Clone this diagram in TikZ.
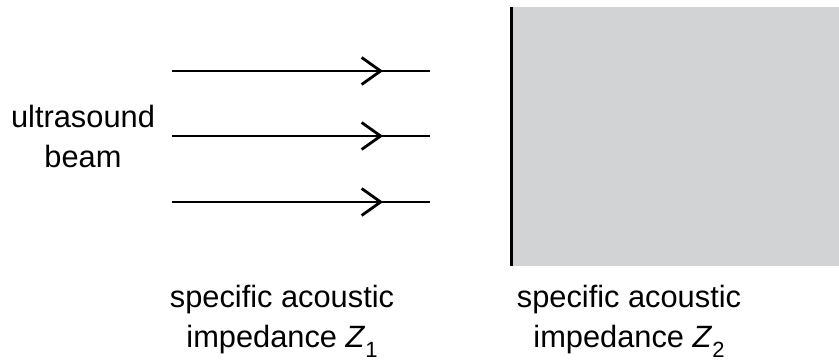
\documentclass[tikz,border=0pt]{standalone}
\usepackage{fontspec}
\setmainfont{Liberation Sans}
\usetikzlibrary{arrows.meta,decorations.markings}
\definecolor{slab}{RGB}{209,211,212}
\newcommand{\zsub}[1]{\textit{Z}\raisebox{-0.32em}{\fontsize{22}{22}\selectfont #1}}
\tikzset{
  x=1pt,y=1pt,
  beam/.style={line width=2.8pt,
    postaction={decorate},
    decoration={markings,mark=at position 0.818 with {\arrow[line width=2.8pt]{Straight Barb[length=19pt,width=27pt]}}}},
  lbl/.style={align=center,font=\fontsize{30.8}{40}\selectfont,inner sep=0pt}
}
\begin{document}
\begin{tikzpicture}
\useasboundingbox (0,0) rectangle (839,363);
% medium 2
\fill[slab] (510,97) rectangle (839,356);
\draw[line width=3.2pt] (511.6,97) -- (511.6,356);
% beams
\foreach \i/\y in {1/292,2/227,3/161}{
  \coordinate (s\i) at (172,\y);
  \coordinate (e\i) at (430,\y);
  \draw[beam] (s\i) -- (e\i);
}
\node[lbl] (ub) at (83,227) {ultrasound\\beam};
\node[lbl] (z1) at (282,42) {specific acoustic\\impedance \zsub{1}};
\node[lbl] (z2) at (629,42) {specific acoustic\\impedance \zsub{2}};
\end{tikzpicture}
\end{document}
